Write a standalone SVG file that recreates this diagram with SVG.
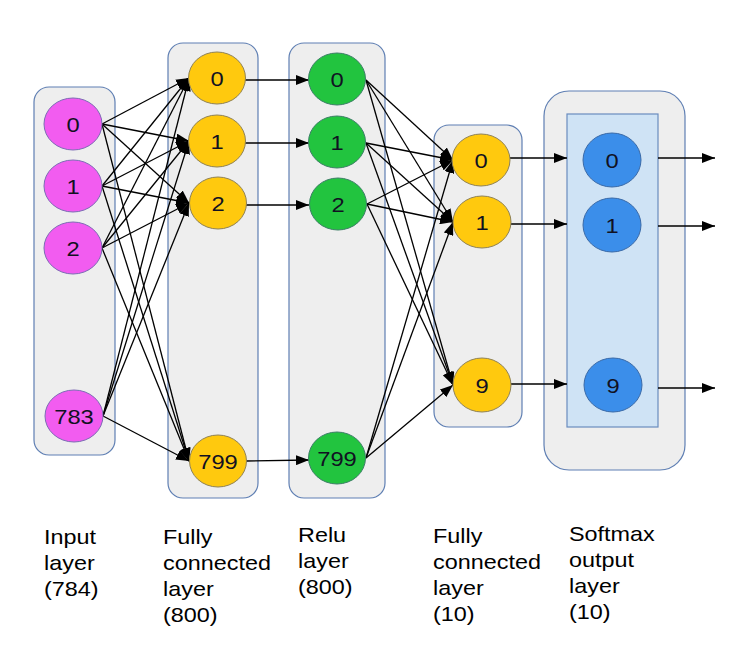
<svg xmlns="http://www.w3.org/2000/svg" width="749" height="657" viewBox="0 0 749 657">
<style>
.box{fill:#eeeeee;stroke:#5f7fb3;stroke-width:1.2}
.inner{fill:#cfe3f5;stroke:#6a8cbf;stroke-width:1.2}
.pink{fill:#f25cf0;stroke:#7d6cb5;stroke-width:1}
.yel{fill:#ffc90e;stroke:#8f8256;stroke-width:1}
.grn{fill:#22c43f;stroke:#3c7f66;stroke-width:1}
.blu{fill:#3b8eea;stroke:#3a6aa8;stroke-width:1}
.nl{font-family:"Liberation Sans",Arial,sans-serif;font-size:21px;fill:#111122;text-anchor:middle}
.lb{font-family:"Liberation Sans",Arial,sans-serif;font-size:20px;fill:#000}
.e{stroke:#000;stroke-width:1.3;fill:none;marker-end:url(#ah)}
</style>
<defs>
<marker id="ah" markerUnits="userSpaceOnUse" markerWidth="14" markerHeight="10" refX="13" refY="5" orient="auto">
<path d="M0,0 L13,5 L0,10 z" fill="#000"/>
</marker>
</defs>

<g id="containers">
<rect class="box" x="34" y="87" width="81" height="368" rx="15"/>
<rect class="box" x="168" y="43" width="90" height="455" rx="15"/>
<rect class="box" x="289" y="43" width="96" height="455" rx="15"/>
<rect class="box" x="434" y="125" width="88" height="302" rx="15"/>
<rect class="box" x="544" y="91" width="141" height="379" rx="25"/>
<rect class="inner" x="567" y="114" width="91" height="313"/>
</g>

<g id="connectors">
<line class="e" x1="102" y1="124" x2="189" y2="78"/>
<line class="e" x1="102" y1="124" x2="189" y2="141"/>
<line class="e" x1="102" y1="124" x2="189" y2="203"/>
<line class="e" x1="102" y1="124" x2="189" y2="461"/>
<line class="e" x1="102" y1="186" x2="189" y2="78"/>
<line class="e" x1="102" y1="186" x2="189" y2="141"/>
<line class="e" x1="102" y1="186" x2="189" y2="203"/>
<line class="e" x1="102" y1="186" x2="189" y2="461"/>
<line class="e" x1="102" y1="248" x2="189" y2="78"/>
<line class="e" x1="102" y1="248" x2="189" y2="141"/>
<line class="e" x1="102" y1="248" x2="189" y2="203"/>
<line class="e" x1="102" y1="248" x2="189" y2="461"/>
<line class="e" x1="103" y1="416" x2="189" y2="78"/>
<line class="e" x1="103" y1="416" x2="189" y2="141"/>
<line class="e" x1="103" y1="416" x2="189" y2="203"/>
<line class="e" x1="103" y1="416" x2="189" y2="461"/>
<line class="e" x1="245" y1="80" x2="309" y2="80"/>
<line class="e" x1="245" y1="143" x2="309" y2="143"/>
<line class="e" x1="246" y1="205" x2="309" y2="205"/>
<line class="e" x1="246" y1="461" x2="309" y2="460"/>
<line class="e" x1="366" y1="80" x2="453" y2="160"/>
<line class="e" x1="366" y1="80" x2="453" y2="222"/>
<line class="e" x1="366" y1="80" x2="453" y2="385"/>
<line class="e" x1="366" y1="143" x2="453" y2="160"/>
<line class="e" x1="366" y1="143" x2="453" y2="222"/>
<line class="e" x1="366" y1="143" x2="453" y2="385"/>
<line class="e" x1="367" y1="204" x2="453" y2="160"/>
<line class="e" x1="367" y1="204" x2="453" y2="222"/>
<line class="e" x1="367" y1="204" x2="453" y2="385"/>
<line class="e" x1="366" y1="458" x2="453" y2="160"/>
<line class="e" x1="366" y1="458" x2="453" y2="222"/>
<line class="e" x1="366" y1="458" x2="453" y2="385"/>
<line class="e" x1="510" y1="158" x2="567" y2="158"/>
<line class="e" x1="511" y1="224" x2="567" y2="224"/>
<line class="e" x1="511" y1="384" x2="567" y2="384"/>
<line class="e" x1="658" y1="158" x2="715" y2="158"/>
<line class="e" x1="658" y1="226" x2="715" y2="226"/>
<line class="e" x1="658" y1="388" x2="715" y2="388"/>
</g>

<g id="in0"><ellipse class="pink" cx="73" cy="124" rx="29" ry="26"/><text class="nl" transform="translate(73,131.5) scale(1.13,1)">0</text></g>
<g id="in1"><ellipse class="pink" cx="73" cy="186" rx="29" ry="26"/><text class="nl" transform="translate(73,193.5) scale(1.13,1)">1</text></g>
<g id="in2"><ellipse class="pink" cx="73" cy="248" rx="29" ry="26"/><text class="nl" transform="translate(73,255.5) scale(1.13,1)">2</text></g>
<g id="in783"><ellipse class="pink" cx="74" cy="416" rx="29" ry="26"/><text class="nl" transform="translate(74,423.5) scale(1.13,1)">783</text></g>

<g id="fc0"><ellipse class="yel" cx="217" cy="78" rx="28.5" ry="26"/><text class="nl" transform="translate(217,85.5) scale(1.13,1)">0</text></g>
<g id="fc1"><ellipse class="yel" cx="217" cy="141" rx="28.5" ry="26"/><text class="nl" transform="translate(217,148.5) scale(1.13,1)">1</text></g>
<g id="fc2"><ellipse class="yel" cx="218" cy="203" rx="28.5" ry="26"/><text class="nl" transform="translate(218,210.5) scale(1.13,1)">2</text></g>
<g id="fc799"><ellipse class="yel" cx="218" cy="461" rx="28.5" ry="26"/><text class="nl" transform="translate(218,468.5) scale(1.13,1)">799</text></g>

<g id="re0"><ellipse class="grn" cx="337" cy="79" rx="28.5" ry="26"/><text class="nl" transform="translate(337,86.5) scale(1.13,1)">0</text></g>
<g id="re1"><ellipse class="grn" cx="337" cy="142" rx="28.5" ry="26"/><text class="nl" transform="translate(337,149.5) scale(1.13,1)">1</text></g>
<g id="re2"><ellipse class="grn" cx="338" cy="204" rx="28.5" ry="26"/><text class="nl" transform="translate(338,211.5) scale(1.13,1)">2</text></g>
<g id="re799"><ellipse class="grn" cx="337" cy="458" rx="28.5" ry="26"/><text class="nl" transform="translate(337,465.5) scale(1.13,1)">799</text></g>

<g id="f20"><ellipse class="yel" cx="481" cy="160" rx="29" ry="26"/><text class="nl" transform="translate(481,167.5) scale(1.13,1)">0</text></g>
<g id="f21"><ellipse class="yel" cx="482" cy="222" rx="29" ry="26"/><text class="nl" transform="translate(482,229.5) scale(1.13,1)">1</text></g>
<g id="f29"><ellipse class="yel" cx="482" cy="385" rx="29" ry="27"/><text class="nl" transform="translate(482,392.5) scale(1.13,1)">9</text></g>

<g id="sm0"><ellipse class="blu" cx="612" cy="160" rx="29" ry="27"/><text class="nl" transform="translate(612,167.5) scale(1.13,1)">0</text></g>
<g id="sm1"><ellipse class="blu" cx="612" cy="225" rx="29" ry="27"/><text class="nl" transform="translate(612,232.5) scale(1.13,1)">1</text></g>
<g id="sm9"><ellipse class="blu" cx="613" cy="385" rx="29" ry="27"/><text class="nl" transform="translate(613,392.5) scale(1.13,1)">9</text></g>

<g id="labels">
<text class="lb" transform="translate(44,544) scale(1.17,1)"><tspan x="0" y="0">Input</tspan><tspan x="0" y="26">layer</tspan><tspan x="0" y="52">(784)</tspan></text>
<text class="lb" transform="translate(163,544) scale(1.17,1)"><tspan x="0" y="0">Fully</tspan><tspan x="0" y="26">connected</tspan><tspan x="0" y="52">layer</tspan><tspan x="0" y="78">(800)</tspan></text>
<text class="lb" transform="translate(298,542) scale(1.17,1)"><tspan x="0" y="0">Relu</tspan><tspan x="0" y="26">layer</tspan><tspan x="0" y="52">(800)</tspan></text>
<text class="lb" transform="translate(433,543) scale(1.17,1)"><tspan x="0" y="0">Fully</tspan><tspan x="0" y="26">connected</tspan><tspan x="0" y="52">layer</tspan><tspan x="0" y="78">(10)</tspan></text>
<text class="lb" transform="translate(569,541) scale(1.17,1)"><tspan x="0" y="0">Softmax</tspan><tspan x="0" y="26">output</tspan><tspan x="0" y="52">layer</tspan><tspan x="0" y="78">(10)</tspan></text>
</g>
</svg>
